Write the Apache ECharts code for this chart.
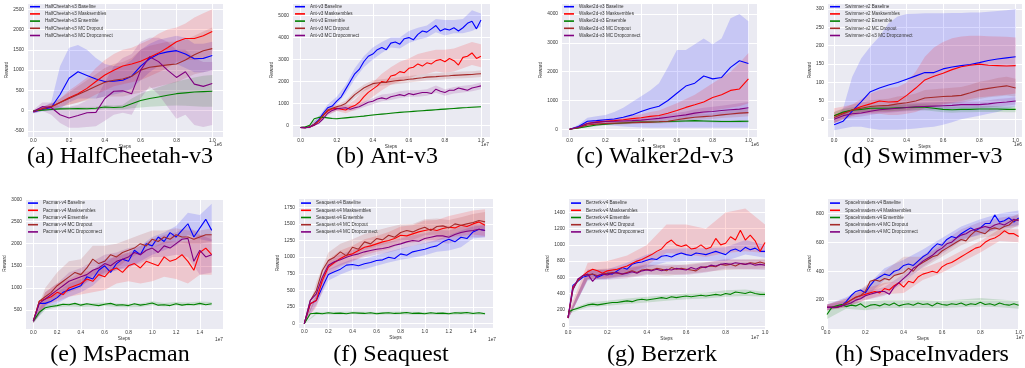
<!DOCTYPE html>
<html><head><meta charset="utf-8">
<script src="https://cdn.jsdelivr.net/npm/echarts@6/dist/echarts.min.js"></script>
<style>html,body{margin:0;padding:0;background:#fff}#c{width:1025px;height:368px}</style>
</head><body><div id="c"></div>
<script>
// ---------- x grids ----------
function makeSteps(n, dx) { const a = []; for (let i = 0; i < n; i++) a.push(Math.round(i * dx * 10000) / 10000); return a; }
const steps21 = makeSteps(21, 0.05);   // 0..1.0
const steps41 = makeSteps(41, 0.025);  // 0..1.0
const steps31 = makeSteps(31, 0.05);   // 0..1.5
const steps16 = makeSteps(16, 0.1);    // 0..1.5
const steps11 = makeSteps(11, 0.1);    // 0..1.0

const methodColors = ['#0000ff', '#ff0000', '#008000', '#a52a2a', '#800080'];

// ---------- (a) HalfCheetah-v3 ----------
const hcNames = ['HalfCheetah-v3 Baseline','HalfCheetah-v3 Masksembles','HalfCheetah-v3 Ensemble','HalfCheetah-v3 MC Dropout','HalfCheetah-v3 MC Dropconnect'];
const hcBase = [-30, 30, 80, 400, 800, 960, 870, 780, 720, 730, 750, 850, 1100, 1280, 1400, 1450, 1480, 1400, 1280, 1290, 1360];
const hcBaseLo = [-60, -20, 0, 50, 200, 300, 300, 300, 350, 400, 450, 550, 750, 950, 1100, 1150, 1150, 1050, 950, 950, 1000];
const hcBaseHi = [0, 80, 200, 1100, 1550, 1620, 1500, 1300, 1150, 1100, 1100, 1250, 1500, 1650, 1750, 1800, 1850, 1800, 1650, 1650, 1700];
const hcMask = [-20, 50, 100, 200, 320, 420, 550, 720, 880, 1000, 1100, 1150, 1220, 1320, 1420, 1550, 1700, 1780, 1780, 1850, 1950];
const hcMaskLo = [-50, 0, 30, 100, 150, 200, 280, 400, 500, 600, 650, 700, 750, 850, 950, 1050, 1200, 1250, 1250, 1300, 1400];
const hcMaskHi = [0, 100, 170, 300, 500, 650, 820, 1050, 1250, 1400, 1500, 1550, 1650, 1750, 1900, 2000, 2050, 2150, 2300, 2400, 2500];
const hcEns = [0, 10, 30, 45, 50, 55, 50, 60, 90, 80, 90, 170, 250, 300, 340, 380, 420, 440, 460, 470, 480];
const hcEnsLo = [-20, -10, 0, 10, 10, 10, 10, 20, 40, 30, 30, 60, 80, 100, 110, 120, 130, 120, 110, 100, 100];
const hcEnsHi = [20, 30, 60, 80, 90, 100, 90, 100, 140, 130, 150, 300, 420, 500, 580, 650, 720, 770, 820, 860, 880];
const hcDrop = [-20, 50, 100, 200, 300, 400, 500, 600, 700, 750, 780, 850, 1000, 1070, 1100, 1130, 1150, 1250, 1380, 1480, 1530];
const hcDropLo = [-60, 0, 50, 100, 150, 200, 250, 300, 350, 350, 350, 400, 450, 550, 600, 650, 700, 800, 900, 950, 1000];
const hcDropHi = [20, 100, 170, 300, 450, 600, 750, 900, 1050, 1150, 1200, 1300, 1500, 1600, 1650, 1700, 1700, 1750, 1850, 1950, 2050];
const hcConn = [-20, 100, 80, -100, -180, -120, -50, -40, 300, 480, 490, 420, 1000, 1330, 1210, 1000, 820, 960, 655, 600, 670];
const hcConnLo = [-60, 0, -100, -300, -420, -420, -400, -380, -250, -100, -50, -100, 300, 600, 400, 100, -200, -100, -350, -400, -350];
const hcConnHi = [20, 200, 200, 100, 100, 150, 250, 300, 700, 1100, 1300, 1400, 1700, 1800, 1800, 1700, 1500, 1500, 1300, 1200, 1200];

// ---------- (b) Ant-v3 ----------
const antNames = ['Ant-v3 Baseline','Ant-v3 Masksembles','Ant-v3 Ensemble','Ant-v3 MC Dropout','Ant-v3 MC Dropconnect'];
const antBase = [-100, -110, -80, 50, 250, 550, 800, 880, 1100, 1300, 1650, 2000, 2350, 2550, 2900, 3150, 3250, 3450, 3550, 3450, 3750, 3800, 3700, 3950, 4000, 3900, 4150, 4300, 4250, 4400, 4550, 4300, 4400, 4350, 4450, 4300, 4450, 4650, 4750, 4400, 4800];
const antBaseLo = [-150, -130, 150, 650, 950, 1450, 2100, 2650, 3000, 3300, 3550, 3500, 3750, 3900, 4000, 4250, 4100, 4200, 4200, 4300, 4500];
const antBaseHi = [-50, -30, 400, 950, 1300, 1850, 2600, 3150, 3550, 3800, 4000, 4000, 4300, 4450, 4550, 4850, 4800, 4800, 4850, 5250, 5100];
const antMask = [-100, -110, -80, 0, 200, 450, 650, 750, 780, 730, 700, 820, 900, 1050, 1300, 1500, 1650, 1800, 2000, 1950, 2250, 2300, 2450, 2400, 2600, 2650, 2800, 2700, 2850, 2800, 2950, 3000, 2900, 3050, 2950, 2750, 3100, 3150, 3300, 3050, 3150];
const antMaskLo = [-150, -130, 100, 500, 650, 550, 700, 1000, 1300, 1600, 1850, 2000, 2150, 2300, 2350, 2450, 2400, 2450, 2600, 2750, 2650];
const antMaskHi = [-50, -30, 300, 800, 900, 900, 1150, 1600, 1950, 2350, 2650, 2900, 3050, 3250, 3350, 3450, 3450, 3500, 3650, 3800, 3700];
const antEns = [-100, -80, 0, 300, 360, 370, 340, 310, 300, 320, 340, 360, 380, 400, 420, 445, 470, 490, 510, 530, 550, 570, 590, 605, 620, 635, 650, 665, 680, 695, 710, 725, 740, 755, 770, 785, 800, 812, 825, 838, 850];
const antEnsLo = [-130, -30, 320, 300, 270, 310, 350, 390, 440, 480, 520, 560, 590, 620, 650, 680, 710, 740, 770, 795, 820];
const antEnsHi = [-70, 30, 400, 380, 330, 370, 410, 450, 500, 540, 580, 620, 650, 680, 710, 740, 770, 800, 830, 855, 880];
const antDrop = [-100, -110, -80, 50, 200, 450, 700, 780, 850, 900, 1000, 1200, 1400, 1550, 1700, 1800, 1900, 1930, 1950, 1970, 2000, 2030, 2050, 2070, 2100, 2120, 2150, 2170, 2200, 2210, 2220, 2240, 2250, 2260, 2280, 2290, 2300, 2310, 2320, 2340, 2350];
const antDropLo = [-130, -110, 150, 600, 750, 880, 1250, 1550, 1750, 1800, 1850, 1900, 1950, 2000, 2050, 2070, 2100, 2130, 2150, 2170, 2200];
const antDropHi = [-70, -50, 250, 800, 950, 1120, 1550, 1850, 2050, 2100, 2150, 2200, 2250, 2300, 2350, 2370, 2400, 2430, 2450, 2470, 2500];
const antConn = [-100, -110, -80, 0, 100, 300, 550, 680, 750, 780, 800, 730, 800, 850, 950, 1050, 1100, 1200, 1250, 1200, 1300, 1350, 1400, 1350, 1450, 1400, 1450, 1500, 1500, 1450, 1650, 1550, 1500, 1600, 1600, 1700, 1650, 1600, 1700, 1750, 1800];
const antConnLo = [-130, -110, 50, 450, 650, 680, 680, 820, 960, 1100, 1150, 1250, 1300, 1300, 1350, 1480, 1350, 1450, 1500, 1550, 1650];
const antConnHi = [-70, -50, 150, 650, 850, 920, 920, 1080, 1240, 1400, 1450, 1550, 1600, 1600, 1650, 1820, 1650, 1750, 1800, 1850, 1950];

// ---------- (c) Walker2d-v3 ----------
const wkNames = ['Walker2d-v3 Baseline','Walker2d-v3 Masksembles','Walker2d-v3 Ensemble','Walker2d-v3 MC Dropout','Walker2d-v3 MC Dropconnect'];
const wkBase = [0, 100, 280, 300, 330, 360, 420, 500, 620, 720, 800, 1000, 1250, 1500, 1600, 1850, 1750, 1800, 2150, 2380, 2280];
const wkBaseLo = [0, 30, 150, 150, 150, 120, 100, 80, 60, 50, 50, 50, 50, 50, 50, 50, 50, 50, 50, 50, 50];
const wkBaseHi = [0, 170, 400, 450, 500, 600, 750, 950, 1150, 1350, 1600, 2150, 2750, 2750, 2950, 3150, 2950, 3150, 3850, 4000, 3750];
const wkMask = [0, 60, 200, 250, 280, 300, 330, 370, 400, 450, 480, 560, 650, 760, 850, 950, 1100, 1200, 1350, 1400, 1750];
const wkMaskLo = [0, 30, 150, 180, 200, 220, 240, 260, 280, 300, 320, 350, 400, 450, 500, 550, 650, 700, 750, 800, 900];
const wkMaskHi = [0, 90, 250, 320, 360, 380, 420, 480, 520, 600, 650, 780, 900, 1050, 1200, 1400, 1600, 1800, 2000, 2300, 2650];
const wkEns = [0, 50, 100, 150, 180, 200, 220, 240, 250, 255, 260, 270, 280, 290, 300, 290, 280, 270, 270, 275, 280];
const wkEnsLo = [0, 20, 60, 110, 140, 160, 180, 200, 210, 215, 220, 230, 240, 250, 260, 250, 240, 230, 230, 235, 240];
const wkEnsHi = [0, 80, 140, 190, 220, 240, 260, 280, 290, 295, 300, 310, 320, 330, 340, 330, 320, 310, 310, 315, 320];
const wkDrop = [0, 60, 150, 180, 200, 210, 220, 230, 240, 250, 260, 280, 330, 380, 420, 440, 460, 500, 530, 560, 580];
const wkDropLo = [0, 30, 100, 130, 150, 160, 170, 180, 190, 200, 200, 220, 260, 300, 330, 350, 360, 390, 410, 430, 450];
const wkDropHi = [0, 90, 200, 230, 250, 260, 270, 280, 290, 300, 320, 340, 400, 460, 510, 530, 560, 610, 650, 690, 710];
const wkConn = [0, 80, 200, 240, 270, 280, 290, 300, 320, 350, 380, 420, 460, 500, 560, 600, 620, 650, 680, 700, 750];
const wkConnLo = [0, 40, 140, 180, 210, 220, 230, 240, 250, 270, 290, 320, 350, 380, 420, 450, 460, 480, 500, 520, 550];
const wkConnHi = [0, 120, 260, 300, 330, 340, 350, 360, 390, 430, 470, 520, 570, 620, 700, 750, 780, 820, 860, 900, 950];

// ---------- (d) Swimmer-v3 ----------
const swNames = ['Swimmer-v2 Baseline','Swimmer-v2 Masksembles','Swimmer-v2 Ensemble','Swimmer-v2 MC Dropout','Swimmer-v2-v3 MC Dropconnect'];
const swBase = [-15, -5, 22, 48, 75, 85, 93, 100, 109, 118, 127, 127, 137, 142, 146, 149, 154, 160, 164, 167, 170];
const swBaseLo = [-30, -25, -20, -20, -25, -28, -28, -28, -27, -25, -22, -20, -15, -8, 0, 5, 10, 15, 20, 28, 35];
const swBaseHi = [0, 30, 116, 166, 198, 225, 261, 279, 286, 287, 288, 288, 288, 289, 289, 290, 290, 292, 294, 296, 300];
const swMask = [10, 18, 25, 35, 42, 50, 47, 48, 65, 85, 107, 117, 125, 135, 143, 147, 150, 147, 146, 145, 146];
const swMaskLo = [-10, 0, 10, 15, 15, 15, 12, 12, 15, 20, 30, 35, 40, 45, 50, 55, 60, 62, 65, 67, 70];
const swMaskHi = [30, 35, 40, 55, 70, 80, 85, 88, 100, 130, 170, 195, 210, 220, 225, 227, 227, 226, 225, 224, 222];
const swEns = [10, 20, 25, 27, 30, 30, 30, 31, 32, 33, 33, 30, 27, 26, 27, 27, 28, 28, 28, 27, 27];
const swEnsLo = [0, 12, 17, 19, 22, 22, 22, 23, 24, 25, 25, 22, 19, 18, 19, 19, 20, 20, 20, 19, 19];
const swEnsHi = [20, 28, 33, 35, 38, 38, 38, 39, 40, 41, 41, 38, 35, 34, 35, 35, 36, 36, 36, 35, 35];
const swDrop = [5, 15, 25, 30, 35, 37, 38, 42, 45, 50, 58, 60, 62, 63, 65, 72, 80, 84, 88, 91, 85];
const swDropLo = [-10, 0, 10, 15, 18, 20, 20, 22, 25, 30, 35, 38, 40, 42, 45, 50, 55, 60, 62, 65, 62];
const swDropHi = [20, 30, 40, 45, 52, 54, 56, 62, 65, 70, 80, 82, 84, 86, 88, 94, 102, 106, 112, 116, 110];
const swConn = [0, 10, 15, 17, 22, 26, 28, 30, 32, 34, 35, 36, 37, 38, 40, 40, 40, 42, 45, 47, 50];
const swConnLo = [-10, 0, 5, 8, 12, 16, 18, 20, 22, 24, 25, 26, 27, 28, 30, 30, 30, 32, 35, 37, 40];
const swConnHi = [10, 20, 25, 26, 32, 36, 38, 40, 42, 44, 45, 46, 47, 48, 50, 50, 50, 52, 55, 57, 60];

// ---------- (e) MsPacman ----------
const pmNames = ['Pacman-v4 Baseline','Pacman-v4 Masksembles','Pacman-v4 Ensemble','Pacman-v4 MC Dropout','Pacman-v4 MC Dropconnect'];
const pmBase = [250, 650, 650, 700, 780, 900, 950, 1000, 1050, 1250, 1200, 1400, 1500, 1350, 1550, 1650, 1600, 1850, 1750, 2000, 1950, 2150, 2050, 2250, 2150, 2300, 2450, 2150, 2350, 2550, 2300];
const pmBaseLo = [200, 550, 650, 800, 900, 1050, 1300, 1400, 1450, 1600, 1750, 1850, 1950, 2200, 2100, 2050];
const pmBaseHi = [300, 750, 900, 1100, 1200, 1400, 1650, 1700, 1800, 1950, 2150, 2250, 2400, 2700, 2650, 2900];
const pmMask = [250, 700, 750, 800, 900, 850, 1000, 1050, 1100, 1200, 1150, 1300, 1250, 1400, 1450, 1350, 1500, 1550, 1450, 1600, 1550, 1500, 1700, 1600, 1650, 1750, 1600, 1400, 1800, 1900, 1750];
const pmMaskLo = [200, 600, 700, 800, 850, 900, 950, 1100, 1150, 1100, 1150, 1250, 1200, 1100, 1300, 1300];
const pmMaskHi = [300, 900, 1100, 1200, 1350, 1400, 1550, 1750, 1800, 1800, 1900, 2050, 2050, 2050, 2200, 2200];
const pmEns = [250, 450, 550, 580, 600, 630, 620, 650, 610, 640, 620, 600, 630, 650, 610, 620, 600, 640, 610, 630, 660, 610, 620, 600, 640, 610, 630, 620, 650, 620, 640];
const pmEnsLo = [220, 500, 560, 580, 570, 580, 590, 570, 560, 570, 610, 580, 600, 590, 610, 600];
const pmEnsHi = [280, 600, 640, 660, 650, 660, 670, 650, 640, 650, 700, 660, 680, 670, 690, 680];
const pmDrop = [250, 700, 800, 900, 1050, 1150, 1250, 1350, 1300, 1450, 1650, 1550, 1600, 1750, 1700, 1800, 1850, 1900, 2000, 1950, 2100, 2050, 2150, 2100, 2200, 2150, 2150, 2100, 2150, 2200, 2200];
const pmDropLo = [200, 600, 750, 900, 1000, 1300, 1300, 1450, 1650, 1800, 1900, 2000, 2050, 2000, 2000, 2050];
const pmDropHi = [300, 1000, 1350, 1600, 1650, 1950, 1950, 2000, 2100, 2200, 2300, 2300, 2350, 2300, 2300, 2350];
const pmConn = [250, 650, 750, 850, 950, 1050, 1150, 1200, 1250, 1300, 1400, 1450, 1550, 1500, 1600, 1650, 1700, 1800, 1750, 1850, 1900, 1800, 1950, 1900, 2000, 2100, 2120, 1600, 1850, 1700, 1750];
const pmConnLo = [200, 600, 800, 950, 1050, 1200, 1350, 1400, 1500, 1550, 1700, 1700, 1750, 1700, 1300, 1350];
const pmConnHi = [300, 900, 1100, 1350, 1450, 1600, 1750, 1800, 1900, 1950, 2100, 2200, 2250, 2400, 2200, 2100];

// ---------- (f) Seaquest ----------
const sqNames = ['Seaquest-v4 Baseline','Seaquest-v4 Masksembles','Seaquest-v4 Ensemble','Seaquest-v4 MC Dropout','Seaquest-v4 MC Dropconnect'];
const sqBase = [0, 300, 350, 550, 740, 780, 820, 880, 890, 870, 900, 920, 950, 960, 1000, 980, 1050, 1030, 1080, 1100, 1120, 1150, 1170, 1230, 1270, 1230, 1300, 1280, 1380, 1420, 1400];
const sqBaseLo = [0, 280, 650, 740, 810, 820, 870, 920, 960, 990, 1030, 1080, 1100, 1150, 1280, 1300];
const sqBaseHi = [0, 420, 820, 900, 970, 980, 1030, 1080, 1130, 1170, 1210, 1260, 1330, 1400, 1460, 1480];
const sqMask = [0, 300, 350, 650, 850, 920, 980, 1030, 1050, 1100, 1150, 1170, 1200, 1230, 1250, 1280, 1330, 1320, 1350, 1380, 1400, 1420, 1400, 1430, 1450, 1440, 1480, 1460, 1500, 1530, 1480];
const sqMaskLo = [0, 250, 730, 860, 930, 1030, 1080, 1120, 1200, 1220, 1250, 1250, 1300, 1320, 1340, 1320];
const sqMaskHi = [0, 450, 970, 1100, 1170, 1270, 1320, 1380, 1460, 1480, 1550, 1560, 1620, 1660, 1700, 1720];
const sqEns = [0, 150, 160, 150, 165, 155, 160, 150, 165, 160, 155, 165, 150, 160, 165, 155, 160, 170, 155, 160, 150, 165, 155, 160, 150, 165, 160, 170, 155, 165, 150];
const sqEnsLo = [0, 135, 140, 140, 145, 140, 135, 140, 140, 135, 135, 135, 130, 140, 135, 130];
const sqEnsHi = [0, 175, 180, 180, 185, 180, 175, 180, 185, 180, 175, 175, 170, 185, 180, 170];
const sqDrop = [0, 350, 500, 800, 950, 1000, 1080, 1020, 1150, 1120, 1230, 1200, 1280, 1260, 1330, 1300, 1370, 1400, 1380, 1420, 1450, 1400, 1460, 1470, 1440, 1500, 1480, 1500, 1520, 1550, 1530];
const sqDropLo = [0, 380, 830, 960, 1030, 1110, 1160, 1210, 1250, 1260, 1330, 1340, 1320, 1360, 1400, 1400];
const sqDropHi = [0, 620, 1070, 1200, 1270, 1350, 1400, 1450, 1490, 1500, 1570, 1580, 1560, 1600, 1650, 1680];
const sqConn = [0, 350, 450, 700, 880, 930, 960, 1000, 1030, 1050, 1080, 1100, 1120, 1130, 1150, 1180, 1200, 1230, 1250, 1240, 1280, 1300, 1320, 1320, 1300, 1340, 1370, 1390, 1400, 1420, 1400];
const sqConnLo = [0, 380, 800, 880, 950, 1000, 1040, 1070, 1120, 1170, 1200, 1230, 1200, 1280, 1300, 1300];
const sqConnHi = [0, 520, 960, 1040, 1110, 1160, 1200, 1230, 1280, 1330, 1360, 1410, 1400, 1460, 1500, 1500];

// ---------- (g) Berzerk ----------
const bzNames = ['Berzerk-v4 Baseline','Berzerk-v4 Masksembles','Berzerk-v4 Ensemble','Berzerk-v4 MC Dropout','Berzerk-v4 MC Dropconnect'];
const bzBase = [100, 500, 550, 600, 620, 640, 600, 630, 650, 640, 680, 720, 700, 760, 780, 790, 810, 830, 820, 860, 870, 850, 880, 900, 880, 870, 900, 890, 880, 900, 920, 900, 880, 930, 950, 920, 970, 940, 960, 920, 920];
const bzBaseLo = [80, 560, 580, 620, 720, 790, 800, 800, 800, 880, 840];
const bzBaseHi = [120, 680, 700, 780, 880, 950, 960, 960, 970, 1060, 1000];
const bzMask = [100, 480, 560, 620, 670, 700, 680, 650, 680, 690, 700, 720, 740, 770, 800, 820, 850, 880, 920, 950, 1020, 1060, 1000, 980, 1000, 950, 960, 1000, 950, 970, 1080, 1000, 1020, 1100, 1060, 1180, 1060, 1120, 1050, 920, 1030];
const bzMaskLo = [80, 580, 590, 640, 750, 900, 880, 850, 900, 920, 900];
const bzMaskHi = [150, 780, 800, 870, 1000, 1250, 1250, 1200, 1400, 1450, 1250];
const bzEns = [170, 200, 220, 240, 260, 270, 260, 270, 280, 290, 290, 300, 310, 300, 320, 330, 320, 330, 340, 350, 340, 360, 350, 360, 370, 360, 370, 380, 370, 380, 390, 380, 400, 390, 420, 410, 400, 420, 400, 390, 390];
const bzEnsLo = [150, 230, 250, 270, 290, 310, 330, 340, 360, 370, 360];
const bzEnsHi = [190, 290, 310, 340, 360, 380, 400, 410, 440, 450, 420];
const bzDrop = [100, 450, 560, 620, 630, 640, 620, 640, 650, 660, 650, 640, 660, 680, 660, 690, 700, 690, 710, 700, 680, 720, 700, 710, 700, 690, 680, 720, 730, 740, 730, 760, 750, 760, 740, 770, 760, 780, 770, 790, 770];
const bzDropLo = [80, 570, 590, 600, 640, 620, 640, 670, 690, 700, 710];
const bzDropHi = [120, 690, 710, 720, 760, 740, 760, 790, 810, 820, 830];
const bzConn = [100, 450, 580, 620, 640, 550, 620, 640, 630, 650, 660, 640, 650, 670, 650, 680, 690, 680, 700, 680, 700, 690, 710, 700, 690, 720, 700, 730, 720, 750, 740, 760, 770, 760, 780, 770, 760, 770, 750, 760, 750];
const bzConnLo = [80, 580, 570, 590, 630, 640, 630, 660, 710, 700, 690];
const bzConnHi = [120, 700, 690, 710, 750, 760, 750, 780, 830, 820, 810];

// ---------- (h) SpaceInvaders ----------
const siNames = ['SpaceInvaders-v4 Baseline','SpaceInvaders-v4 Masksembles','SpaceInvaders-v4 Ensemble','SpaceInvaders-v4 MC Dropout','SpaceInvaders-v4 MC Dropconnect'];
const siBase = [150, 150, 150, 160, 190, 230, 260, 270, 250, 300, 340, 360, 380, 370, 400, 410, 440, 450, 440, 470, 500, 520, 560, 590, 580, 620, 640, 630, 660, 680, 700, 680, 700, 730, 730, 790, 740, 750, 770, 740, 770];
const siBaseLo = [130, 160, 220, 340, 400, 460, 540, 620, 650, 700, 720];
const siBaseHi = [170, 220, 290, 420, 480, 550, 630, 710, 760, 800, 820];
const siMask = [150, 150, 150, 160, 180, 200, 220, 230, 240, 250, 260, 250, 280, 270, 300, 320, 290, 330, 320, 360, 380, 390, 400, 390, 430, 450, 460, 480, 500, 520, 540, 560, 570, 600, 620, 630, 650, 680, 660, 660, 640];
const siMaskLo = [130, 150, 200, 240, 250, 340, 390, 460, 530, 610, 600];
const siMaskHi = [170, 210, 280, 320, 330, 420, 470, 540, 610, 690, 690];
const siEns = [100, 150, 160, 170, 155, 165, 160, 175, 150, 165, 170, 160, 175, 165, 180, 160, 170, 175, 165, 180, 170, 175, 160, 180, 170, 165, 175, 170, 180, 165, 175, 170, 185, 170, 175, 165, 180, 170, 165, 175, 165];
const siEnsLo = [70, 140, 130, 145, 145, 145, 145, 150, 155, 150, 140];
const siEnsHi = [130, 185, 190, 200, 200, 200, 195, 205, 215, 205, 195];
const siDrop = [150, 150, 150, 160, 180, 200, 220, 230, 260, 330, 340, 330, 350, 340, 370, 380, 390, 420, 400, 440, 460, 480, 500, 510, 540, 560, 580, 600, 620, 610, 650, 680, 670, 660, 690, 700, 690, 710, 720, 750, 760];
const siDropLo = [130, 160, 230, 310, 340, 420, 500, 580, 630, 650, 720];
const siDropHi = [170, 210, 300, 400, 500, 500, 580, 660, 710, 730, 800];
const siConn = [150, 150, 150, 160, 170, 180, 200, 210, 230, 240, 250, 260, 260, 240, 290, 320, 350, 380, 420, 440, 470, 490, 510, 540, 560, 590, 600, 630, 650, 660, 680, 690, 700, 710, 700, 720, 730, 720, 740, 760, 750];
const siConnLo = [130, 150, 200, 230, 320, 430, 520, 610, 660, 690, 710];
const siConnHi = [170, 190, 260, 290, 380, 510, 600, 690, 740, 770, 790];

// ---------- panel tables (built from the arrays above) ----------
const panelData = [
  { steps: steps21, bandSteps: steps21, names: hcNames, means: [hcBase, hcMask, hcEns, hcDrop, hcConn], lows: [hcBaseLo, hcMaskLo, hcEnsLo, hcDropLo, hcConnLo], highs: [hcBaseHi, hcMaskHi, hcEnsHi, hcDropHi, hcConnHi] },
  { steps: steps41, bandSteps: steps21, names: antNames, means: [antBase, antMask, antEns, antDrop, antConn], lows: [antBaseLo, antMaskLo, antEnsLo, antDropLo, antConnLo], highs: [antBaseHi, antMaskHi, antEnsHi, antDropHi, antConnHi] },
  { steps: steps21, bandSteps: steps21, names: wkNames, means: [wkBase, wkMask, wkEns, wkDrop, wkConn], lows: [wkBaseLo, wkMaskLo, wkEnsLo, wkDropLo, wkConnLo], highs: [wkBaseHi, wkMaskHi, wkEnsHi, wkDropHi, wkConnHi] },
  { steps: steps21, bandSteps: steps21, names: swNames, means: [swBase, swMask, swEns, swDrop, swConn], lows: [swBaseLo, swMaskLo, swEnsLo, swDropLo, swConnLo], highs: [swBaseHi, swMaskHi, swEnsHi, swDropHi, swConnHi] },
  { steps: steps31, bandSteps: steps16, names: pmNames, means: [pmBase, pmMask, pmEns, pmDrop, pmConn], lows: [pmBaseLo, pmMaskLo, pmEnsLo, pmDropLo, pmConnLo], highs: [pmBaseHi, pmMaskHi, pmEnsHi, pmDropHi, pmConnHi] },
  { steps: steps31, bandSteps: steps16, names: sqNames, means: [sqBase, sqMask, sqEns, sqDrop, sqConn], lows: [sqBaseLo, sqMaskLo, sqEnsLo, sqDropLo, sqConnLo], highs: [sqBaseHi, sqMaskHi, sqEnsHi, sqDropHi, sqConnHi] },
  { steps: steps41, bandSteps: steps11, names: bzNames, means: [bzBase, bzMask, bzEns, bzDrop, bzConn], lows: [bzBaseLo, bzMaskLo, bzEnsLo, bzDropLo, bzConnLo], highs: [bzBaseHi, bzMaskHi, bzEnsHi, bzDropHi, bzConnHi] },
  { steps: steps41, bandSteps: steps11, names: siNames, means: [siBase, siMask, siEns, siDrop, siConn], lows: [siBaseLo, siMaskLo, siEnsLo, siDropLo, siConnLo], highs: [siBaseHi, siMaskHi, siEnsHi, siDropHi, siConnHi] }
];

// ---------- layout (positions / axis extents) ----------
const layout = [
  { left: 27,  top: 3,   width: 196, height: 134, xMin: -0.035, xMax: 1.06,  yMin: -648, yMax: 2655, yStep: 500,  rGap: 16, exp: '1e6', ex: 218,  ey: 145, cap: '(a) HalfCheetah-v3', cx: 120, cy: 157 },
  { left: 292, top: 3,   width: 198, height: 134, xMin: -0.048, xMax: 1.05,  yMin: -533, yMax: 5579, yStep: 1000, rGap: 14, exp: '1e7', ex: 485,  ey: 145, cap: '(b) Ant-v3',         cx: 387, cy: 157 },
  { left: 561, top: 3,   width: 196, height: 134, xMin: -0.048, xMax: 1.048, yMin: -267, yMax: 4382, yStep: 1000, rGap: 14, exp: '1e6', ex: 755,  ey: 145, cap: '(c) Walker2d-v3',    cx: 655, cy: 157 },
  { left: 827, top: 3,   width: 195, height: 134, xMin: -0.039, xMax: 1.035, yMin: -48,  yMax: 316,  yStep: 50,   rGap: 11, exp: '1e6', ex: 1018, ey: 145, cap: '(d) Swimmer-v3',     cx: 923, cy: 157 },
  { left: 25,  top: 198, width: 198, height: 131, xMin: -0.07,  xMax: 1.595, yMin: 71,   yMax: 3032, yStep: 500,  rGap: 13, exp: '1e7', ex: 219,  ey: 340, cap: '(e) MsPacman',       cx: 120, cy: 355 },
  { left: 298, top: 198, width: 195, height: 130, xMin: -0.052, xMax: 1.566, yMin: -64,  yMax: 1889, yStep: 250,  rGap: 15, exp: '1e7', ex: 492,  ey: 340, cap: '(f) Seaquest',       cx: 391, cy: 355 },
  { left: 568, top: 198, width: 197, height: 131, xMin: 0,      xMax: 1.0,   yMin: -37,  yMax: 1578, yStep: 200,  rGap: 14, exp: '1e7', ex: 755,  ey: 338, cap: '(g) Berzerk',        cx: 662, cy: 355 },
  { left: 827, top: 198, width: 199, height: 131, xMin: 0,      xMax: 1.0,   yMin: 0,    yMax: 907,  yStep: 200,  rGap: 11, exp: '1e7', ex: 1020, ey: 338, cap: '(h) SpaceInvaders',  cx: 922, cy: 355 }
];

const sansFont = '"Liberation Sans", Arial, sans-serif';
const tickColor = '#333';
function onStep(v, s) { const r = v / s; return Math.abs(r - Math.round(r)) < 1e-6; }

const grids = [], xAxes = [], yAxes = [], legends = [], series = [], graphics = [];
layout.forEach((L, i) => {
  grids.push({ left: L.left, top: L.top, width: L.width, height: L.height, show: true, backgroundColor: '#eaeaf2', borderWidth: 0, containLabel: false });
  xAxes.push({
    gridIndex: i, type: 'value', min: L.xMin, max: L.xMax, minInterval: 0.2, maxInterval: 0.2,
    axisLine: { show: false }, axisTick: { show: false },
    splitLine: { show: true, lineStyle: { color: '#ffffff', width: 1 } },
    axisLabel: { fontSize: 4.8, color: tickColor, fontFamily: sansFont, margin: 1.5,
      showMinLabel: onStep(L.xMin, 0.2), showMaxLabel: onStep(L.xMax, 0.2),
      formatter: v => v.toFixed(1) },
    name: 'Steps', nameLocation: 'middle', nameGap: 7,
    nameTextStyle: { fontSize: 4.8, color: tickColor, fontFamily: sansFont }
  });
  yAxes.push({
    gridIndex: i, type: 'value', min: L.yMin, max: L.yMax, minInterval: L.yStep, maxInterval: L.yStep,
    axisLine: { show: false }, axisTick: { show: false },
    splitLine: { show: true, lineStyle: { color: '#ffffff', width: 1 } },
    axisLabel: { fontSize: 4.8, color: tickColor, fontFamily: sansFont, margin: 3,
      showMinLabel: onStep(L.yMin, L.yStep), showMaxLabel: onStep(L.yMax, L.yStep),
      formatter: v => String(Math.round(v)) },
    name: 'Reward', nameLocation: 'middle', nameGap: L.rGap,
    nameTextStyle: { fontSize: 4.8, color: tickColor, fontFamily: sansFont }
  });
  const P = panelData[i];
  legends.push({
    orient: 'vertical', left: L.left + 3, top: i < 4 ? 4.2 : 200.6,
    itemWidth: 10, itemHeight: 1.6, itemGap: 2.2, icon: 'rect', padding: 0, selectedMode: false,
    textStyle: { fontSize: 4.6, color: tickColor, fontFamily: sansFont, lineHeight: 5 },
    data: P.names
  });
  // confidence bands
  for (let k = 0; k < 5; k++) {
    const xs = P.bandSteps, lo = P.lows[k], hi = P.highs[k], col = methodColors[k];
    series.push({
      type: 'custom', xAxisIndex: i, yAxisIndex: i, silent: true, clip: true, z: 1,
      data: [[xs[0], lo[0]]],
      renderItem: function (params, api) {
        const pts = [];
        for (let j = 0; j < xs.length; j++) pts.push(api.coord([xs[j], hi[j]]));
        for (let j = xs.length - 1; j >= 0; j--) pts.push(api.coord([xs[j], lo[j]]));
        return { type: 'polygon', shape: { points: pts }, style: { fill: col, opacity: 0.15 } };
      }
    });
  }
  // mean lines
  for (let k = 0; k < 5; k++) {
    const xs = P.steps, ys = P.means[k];
    series.push({
      type: 'line', name: P.names[k], xAxisIndex: i, yAxisIndex: i, z: 3,
      showSymbol: false, symbol: 'none', clip: true,
      color: methodColors[k], lineStyle: { width: 1.1, color: methodColors[k] },
      data: xs.map((x, j) => [x, ys[j]])
    });
  }
  graphics.push({ type: 'text', x: L.ex, y: L.ey, silent: true,
    style: { text: L.exp, fontSize: 4.8, fontFamily: sansFont, fill: tickColor, align: 'center', verticalAlign: 'middle' } });
  graphics.push({ type: 'text', x: L.cx, y: L.cy, silent: true,
    style: { text: L.cap, fontSize: 24, fontFamily: '"Liberation Serif", "Times New Roman", serif', fill: '#000', align: 'center', verticalAlign: 'middle' } });
});

const chart = echarts.init(document.getElementById('c'), null, { renderer: 'canvas' });
chart.setOption({
  animation: false,
  backgroundColor: '#ffffff',
  grid: grids, xAxis: xAxes, yAxis: yAxes, legend: legends, series: series,
  graphic: { elements: graphics }
});
</script></body></html>
